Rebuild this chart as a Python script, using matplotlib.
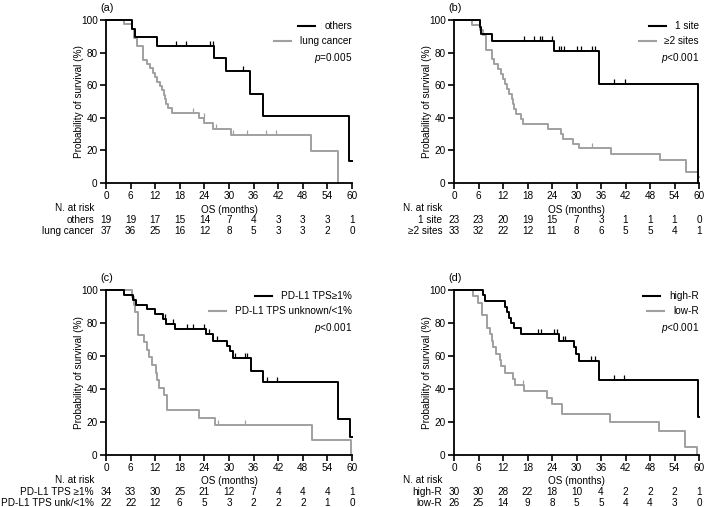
import numpy as np
import matplotlib
matplotlib.use("Agg")
import matplotlib.pyplot as plt
from matplotlib.lines import Line2D
from matplotlib.path import Path

plt.rcParams['font.family'] = ['Liberation Sans', 'DejaVu Sans']
plt.rcParams['mathtext.fontset'] = 'custom'
plt.rcParams['mathtext.it'] = 'Liberation Sans:italic'
plt.rcParams['mathtext.rm'] = 'Liberation Sans'

# ---------------- data ----------------
risk_times = [0, 6, 12, 18, 24, 30, 36, 42, 48, 54, 60]

# (a)
a_labels = ["others", "lung cancer"]
a_risk_labels = ["others", "lung cancer"]
a_p = "$\\it{p}$=0.005"
a1_t = [6.3, 7.0, 12.5, 26.3, 29.3, 35.2, 38.2, 59.3]
a1_s = [94.7, 89.5, 84.2, 76.5, 68.5, 54.5, 40.8, 13.6]
a1_end = 60
a1_cens = [17.1, 19.5, 25.4, 26.0, 33.5]
a2_t = [4.5, 6.3, 6.9, 7.5, 9.1, 9.9, 10.7, 11.4, 12.0, 12.5, 13.1, 13.7, 14.1, 14.4,
        14.7, 15.2, 16.0, 22.7, 24.0, 26.2, 30.5, 50.0, 56.6]
a2_s = [97.3, 94.6, 89.2, 83.8, 75.7, 73.0, 70.3, 67.6, 64.9, 62.2, 59.5, 56.8, 54.1, 51.4,
        48.6, 45.9, 43.2, 40.0, 36.7, 33.4, 29.4, 19.5, 0.0]
a2_end = 56.6
a2_cens = [21.2, 23.8, 26.9, 31.0, 34.4, 39.0, 41.5]
a1_risk = [19, 19, 17, 15, 14, 7, 4, 3, 3, 3, 1]
a2_risk = [37, 36, 25, 16, 12, 8, 5, 3, 3, 2, 0]

# (b)
b_labels = ["1 site", "\u22652 sites"]
b_risk_labels = ["1 site", "\u22652 sites"]
b_p = "$\\it{p}$<0.001"
b1_t = [6.3, 6.6, 9.2, 24.4, 35.5, 59.8]
b1_s = [95.7, 91.3, 87.0, 81.2, 60.9, 0.0]
b1_end = 59.8
b1_cens = [17.1, 19.7, 21.1, 21.5, 23.9, 25.6, 26.2, 26.9, 30.0, 31.1, 33.8, 34.6, 39.3, 41.8]
b2_t = [4.4, 6.3, 7.2, 7.8, 9.2, 9.9, 10.7, 11.5, 12.1, 12.5, 13.0, 13.5, 14.1, 14.5, 14.8,
        15.1, 16.3, 17.0, 22.9, 26.1, 26.6, 29.2, 30.7, 38.4, 50.4, 56.8, 59.8]
b2_s = [97.0, 93.9, 90.9, 81.8, 75.8, 72.7, 69.7, 66.7, 63.6, 60.6, 57.6, 54.5, 51.5, 48.5, 45.5,
        42.4, 39.4, 36.4, 33.3, 30.3, 27.3, 24.2, 21.2, 17.6, 14.1, 7.0, 3.5]
b2_end = 60
b2_cens = [33.9]
b1_risk = [23, 23, 20, 19, 15, 7, 3, 1, 1, 1, 0]
b2_risk = [33, 32, 22, 12, 11, 8, 6, 5, 5, 4, 1]

# (c)
c_labels = ["PD-L1 TPS\u22651%", "PD-L1 TPS unknown/<1%"]
c_risk_labels = ["PD-L1 TPS \u22651%", "PD-L1 TPS unk/<1%"]
c_p = "$\\it{p}$<0.001"
c1_t = [4.5, 6.7, 7.3, 9.9, 12.0, 13.8, 14.7, 16.9, 24.3, 26.2, 29.5, 30.3, 30.9, 35.4, 38.4, 56.6, 59.6]
c1_s = [97.1, 94.1, 91.2, 88.2, 85.3, 82.4, 79.4, 76.5, 73.3, 69.2, 66.0, 62.8, 58.9, 51.2, 44.0, 22.0, 11.0]
c1_end = 60
c1_cens = [14.3, 16.4, 19.7, 21.3, 24.0, 25.2, 27.0, 31.5, 33.9, 34.5, 39.2, 41.7]
c2_t = [6.3, 6.9, 7.1, 7.7, 9.3, 9.9, 10.5, 11.2, 12.2, 12.5, 13.0, 14.2, 14.8, 22.8, 26.6, 50.2, 59.8]
c2_s = [95.5, 90.9, 86.4, 72.7, 68.2, 63.6, 59.1, 54.5, 50.0, 45.5, 40.9, 36.4, 27.3, 22.7, 18.2, 9.1, 0.0]
c2_end = 59.8
c2_cens = [27.2, 34.0]
c1_risk = [34, 33, 30, 25, 21, 12, 7, 4, 4, 4, 1]
c2_risk = [22, 22, 12, 6, 5, 3, 2, 2, 2, 1, 0]

# (d)
d_labels = ["high-R", "low-R"]
d_risk_labels = ["high-R", "low-R"]
d_p = "$\\it{p}$<0.001"
d1_t = [7.0, 7.6, 12.5, 13.0, 13.5, 14.0, 14.6, 16.3, 25.8, 29.4, 29.8, 30.5, 35.5, 59.7]
d1_s = [96.7, 93.3, 90.0, 86.7, 83.3, 80.0, 76.7, 73.3, 69.2, 65.2, 61.3, 57.0, 45.6, 22.8]
d1_end = 60
d1_cens = [20.5, 21.2, 24.5, 25.3, 26.8, 27.2, 33.5, 34.5, 39.2, 41.7]
d2_t = [4.6, 5.9, 6.8, 8.0, 8.9, 9.2, 9.6, 10.4, 11.2, 11.6, 12.5, 14.5, 14.9, 17.1, 22.7, 23.9,
        26.4, 38.3, 50.3, 56.6, 59.6]
d2_s = [96.2, 92.3, 84.6, 76.9, 73.1, 69.2, 65.4, 61.5, 57.7, 53.8, 50.0, 46.2, 42.3, 38.5, 34.6, 30.8,
        25.0, 19.8, 14.8, 5.0, 0.0]
d2_end = 59.6
d2_cens = [16.9]
d1_risk = [30, 30, 28, 22, 18, 10, 4, 2, 2, 2, 1]
d2_risk = [26, 25, 14, 9, 8, 5, 5, 4, 4, 3, 0]

panels = [
    ("(a)", a_labels, a_risk_labels, a_p, (a1_t, a1_s, a1_end, a1_cens, a1_risk), (a2_t, a2_s, a2_end, a2_cens, a2_risk)),
    ("(b)", b_labels, b_risk_labels, b_p, (b1_t, b1_s, b1_end, b1_cens, b1_risk), (b2_t, b2_s, b2_end, b2_cens, b2_risk)),
    ("(c)", c_labels, c_risk_labels, c_p, (c1_t, c1_s, c1_end, c1_cens, c1_risk), (c2_t, c2_s, c2_end, c2_cens, c2_risk)),
    ("(d)", d_labels, d_risk_labels, d_p, (d1_t, d1_s, d1_end, d1_cens, d1_risk), (d2_t, d2_s, d2_end, d2_cens, d2_risk)),
]

# ---------------- figure ----------------
W, H = 707, 507
fig = plt.figure(figsize=(W / 100, H / 100), dpi=100)
FS = 7.2
BLACK = "#000000"
GRAY = "#a0a0a0"
PX = 0.72  # points per pixel

# axes boxes in pixels: left, top, right, bottom
boxes = [(106, 20, 352, 183), (454, 20, 699, 183), (106, 290, 352, 455), (454, 290, 699, 455)]

cens_marker = Path([(0, 0), (0, 1)], [Path.MOVETO, Path.LINETO])


def step_value(t, s, x):
    v = 100.0
    for ti, si in zip(t, s):
        if ti <= x:
            v = si
    return v


for (lab, leg_labels, risk_labels, ptxt, g1, g2), (l, tp, r, b) in zip(panels, boxes):
    hpx = b - tp
    ax = fig.add_axes([l / W, 1 - b / H, (r - l) / W, hpx / H])
    for (t, s, end, cens, _), col in zip([g1, g2], [BLACK, GRAY]):
        xs = [0] + list(t) + [end]
        ys = [100] + list(s) + [s[-1]]
        ax.step(xs, ys, where="post", color=col, lw=1.4, clip_on=False, zorder=3 if col == BLACK else 2)
        cy = [step_value(t, s, c) for c in cens]
        ax.plot(cens, cy, ls="none", marker=cens_marker, ms=7, mew=0.9, color=col,
                clip_on=False, zorder=3 if col == BLACK else 2)

    ax.set_xlim(0, 60)
    ax.set_ylim(0, 100)
    ax.set_xticks(risk_times)
    ax.set_yticks([0, 20, 40, 60, 80, 100])
    for sp in ["top", "right"]:
        ax.spines[sp].set_visible(False)
    for sp in ["left", "bottom"]:
        ax.spines[sp].set_linewidth(1.3)
    ax.tick_params(direction="out", length=4, width=1.2, labelsize=FS, pad=2)
    ax.set_ylabel("Probability of survival (%)", fontsize=FS, labelpad=-2)

    # panel label
    ax.annotate(lab, xy=(0, 1), xycoords="axes fraction", xytext=(-6 * PX, 7 * PX),
                textcoords="offset points", fontsize=FS + 0.6, ha="left", va="bottom")

    # legend
    handles = [Line2D([], [], color=BLACK, lw=1.5), Line2D([], [], color=GRAY, lw=1.5),
               Line2D([], [], color="none")]
    leg = ax.legend(handles, leg_labels + [ptxt], loc="upper right",
                    bbox_to_anchor=(1.0, 1.0 - 1.0 / hpx),
                    frameon=False, fontsize=FS, borderpad=0, borderaxespad=0, handlelength=1.7,
                    handletextpad=0.9, labelspacing=0.5)
    leg._legend_handle_box.get_children()[0].align = "right"

    # risk table
    ax.annotate("N. at risk", xy=(0, 0), xycoords=("data", "axes fraction"),
                xytext=(-12 * PX, -25 * PX), textcoords="offset points",
                ha="right", va="center", fontsize=FS)
    ax.annotate("OS (months)", xy=(30, 0), xycoords=("data", "axes fraction"),
                xytext=(0, -26.5 * PX), textcoords="offset points",
                ha="center", va="center", fontsize=FS)
    for row, (rl, g) in enumerate(zip(risk_labels, [g1, g2])):
        yoff = -(37 + 10.5 * row) * PX
        ax.annotate(rl, xy=(0, 0), xycoords=("data", "axes fraction"),
                    xytext=(-12 * PX, yoff), textcoords="offset points",
                    ha="right", va="center", fontsize=FS)
        for tt, n in zip(risk_times, g[4]):
            ax.annotate(str(n), xy=(tt, 0), xycoords=("data", "axes fraction"),
                        xytext=(0, yoff), textcoords="offset points",
                        ha="center", va="center", fontsize=FS)

fig.savefig("out.png", dpi=100)
